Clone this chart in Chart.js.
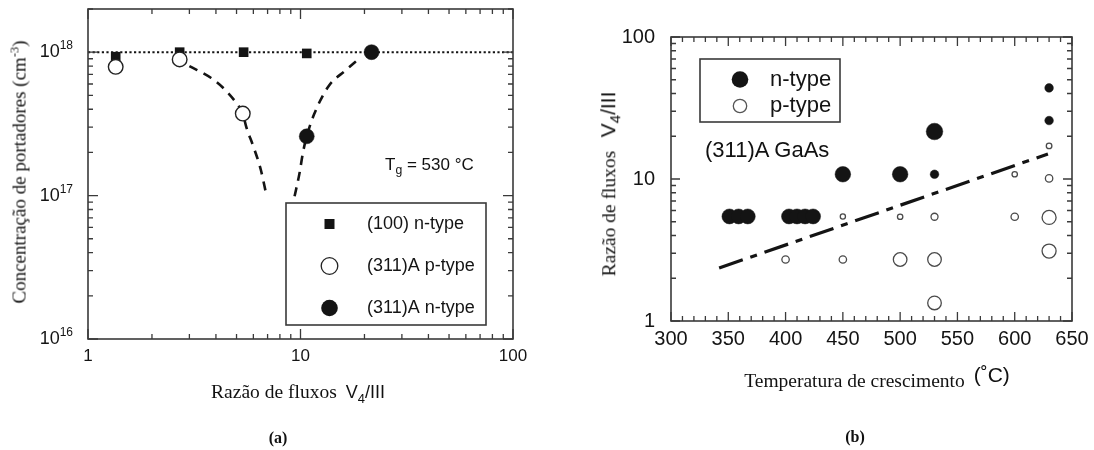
<!DOCTYPE html>
<html>
<head>
<meta charset="utf-8">
<title>Concentração de portadores e razão de fluxos V4/III</title>
<script src="https://cdn.jsdelivr.net/npm/chart.js@4.4.1/dist/chart.umd.min.js"></script>
<style>
  html, body { margin: 0; padding: 0; background: #fff; }
  body { width: 1094px; height: 450px; position: relative; overflow: hidden;
         font-family: "Liberation Sans", Arial, Helvetica, sans-serif; color: #111; }
  canvas { position: absolute; top: 0; }
  .t { position: absolute; white-space: nowrap; line-height: 1; }
  .c { transform: translate(-50%, -50%); }
  .rot { transform: translate(-50%, -50%) rotate(-90deg); }
  .serif { font-family: "Liberation Serif", "Times New Roman", Times, serif; }
  .sans { font-family: "Liberation Sans", Arial, Helvetica, sans-serif; }
  .sub { font-size: 0.72em; position: relative; top: 0.35em; }
  .sup { font-size: 0.66em; position: relative; top: -0.55em; }
</style>
</head>
<body>
<canvas id="chartA" style="left:0" width="545" height="450"></canvas>
<canvas id="chartB" style="left:545px" width="549" height="450"></canvas>

<!-- titles and annotations, panel (a) -->
<div class="t rot serif" style="left:19px;top:172px;font-size:19px">Concentração de portadores (cm<span class="sup">-3</span>)</div>
<div class="t c" style="left:298px;top:392px"><span class="serif" style="font-size:19.5px">Razão de fluxos</span>&nbsp;&nbsp;<span class="sans" style="font-size:18px">V<span class="sub">4</span>/III</span></div>
<div class="t sans" style="left:385px;top:156px;font-size:17px">T<span class="sub">g</span> = 530 °C</div>
<div class="t c serif" style="left:278px;top:438px;font-size:16px;font-weight:bold">(a)</div>

<!-- titles and annotations, panel (b) -->
<div class="t rot" style="left:608px;top:184px"><span class="serif" style="font-size:19.5px">Razão de fluxos</span>&nbsp;&nbsp;&nbsp;<span class="sans" style="font-size:21px">V<span class="sub">4</span>/III</span></div>
<div class="t c" style="left:877px;top:380px"><span class="serif" style="font-size:19.5px">Temperatura de crescimento</span>&nbsp;&nbsp;<span class="sans" style="font-size:21px;position:relative;top:-5px">(˚C)</span></div>
<div class="t sans" style="left:705px;top:139px;font-size:22px">(311)A GaAs</div>
<div class="t c serif" style="left:855px;top:437px;font-size:16px;font-weight:bold">(b)</div>

<script>
// ---------- panel (a): carrier concentration vs. V4/III flux ratio (Tg = 530 °C)
const fluxN100 = [1.35, 2.7, 5.4, 10.7, 21.6];
const concN100 = [9.3e17, 1.0e18, 1.0e18, 0.98e18, 1.0e18];
const fluxP311 = [1.35, 2.7, 5.35];
const concP311 = [7.9e17, 8.9e17, 3.73e17];
const fluxN311 = [10.7, 21.6];
const concN311 = [2.59e17, 1.0e18];
// guide curves through the (311)A points
const fluxPFit = [3.0, 3.8, 4.4, 5.0, 5.35, 5.56, 6.0, 6.5, 6.9];
const concPFit = [8.0e17, 6.6e17, 5.5e17, 4.4e17, 3.73e17, 3.0e17, 2.2e17, 1.52e17, 1.02e17];
const fluxNFit = [9.38, 9.9, 10.26, 10.7, 11.6, 13.5, 16.4, 19.0];
const concNFit = [0.99e17, 1.44e17, 1.98e17, 2.59e17, 3.7e17, 5.74e17, 7.53e17, 9.1e17];
const fluxRef = [1, 100];
const concRef = [1e18, 1e18];
const fluxTicks = [1, 10, 100];
const fluxTickLabels = ['1', '10', '100'];
const concTickExponents = [16, 17, 18];
const legendA = ['(100) n-type', '(311)A p-type', '(311)A n-type'];

// ---------- panel (b): flux ratio vs. growth temperature, (311)A GaAs
const tempN  = [351, 359, 367, 403, 410, 417, 424, 450, 500, 530, 530, 630, 630];
const ratioN = [5.45, 5.45, 5.45, 5.45, 5.45, 5.45, 5.45, 10.8, 10.8, 21.6, 10.8, 43.8, 25.8];
const tempP  = [400, 450, 450, 500, 500, 530, 530, 530, 600, 600, 630, 630, 630, 630];
const ratioP = [2.71, 5.45, 2.71, 5.42, 2.71, 5.42, 2.71, 1.34, 10.8, 5.42, 17.1, 10.1, 5.36, 3.11];
const tempFit  = [342, 629];
const ratioFit = [2.36, 15.0];
const tempTicks = [300, 350, 400, 450, 500, 550, 600, 650];
const tempTickLabels = ['300', '350', '400', '450', '500', '550', '600', '650'];
const ratioTicks = [1, 10, 100];
const ratioTickLabels = ['1', '10', '100'];
const legendB = ['n-type', 'p-type'];

// marker radii (drawing style, px)
const radiusN = [7.5, 7.5, 7.5, 7.5, 7.5, 7.5, 7.5, 7.8, 7.8, 8.3, 4.3, 4.3, 4.3];
const radiusP = [3.7, 2.6, 3.7, 2.7, 6.8, 3.5, 6.8, 6.8, 2.7, 3.7, 2.8, 3.7, 7.0, 7.0];

const INK = '#141414';
const FRAME = '#3a3a3a';
const SANS = '"Liberation Sans", Arial, Helvetica, sans-serif';

const pts = (xs, ys) => xs.map((x, i) => ({ x, y: ys[i] }));

// minor/major positions for a log axis
function logTickValues(min, max) {
  const out = [];
  for (let d = Math.floor(Math.log10(min)); d <= Math.ceil(Math.log10(max)); d++) {
    for (let m = 1; m <= 9; m++) {
      const v = m * Math.pow(10, d);
      if (v >= min * 0.999 && v <= max * 1.001) out.push({ v, major: m === 1 });
    }
  }
  return out;
}

// frame plus inward ticks on all four sides
function drawFrame(chart, xTicks, yTicks, len) {
  const { ctx, chartArea: a, scales: { x, y } } = chart;
  ctx.save();
  ctx.strokeStyle = FRAME;
  ctx.lineWidth = 1.3;
  ctx.beginPath();
  xTicks.forEach(t => {
    const px = x.getPixelForValue(t.v);
    const L = t.major ? len.major : len.minor;
    ctx.moveTo(px, a.bottom); ctx.lineTo(px, a.bottom - L);
    ctx.moveTo(px, a.top); ctx.lineTo(px, a.top + L);
  });
  yTicks.forEach(t => {
    const py = y.getPixelForValue(t.v);
    const L = t.major ? len.major : len.minor;
    ctx.moveTo(a.left, py); ctx.lineTo(a.left + L, py);
    ctx.moveTo(a.right, py); ctx.lineTo(a.right - L, py);
  });
  ctx.stroke();
  ctx.lineWidth = 1.6;
  ctx.strokeRect(a.left, a.top, a.right - a.left, a.bottom - a.top);
  ctx.restore();
}

function marker(ctx, kind, cx, cy, r, stroke) {
  ctx.beginPath();
  if (kind === 'square') {
    ctx.fillStyle = INK;
    ctx.fillRect(cx - r, cy - r, 2 * r, 2 * r);
    return;
  }
  ctx.arc(cx, cy, r, 0, Math.PI * 2);
  if (kind === 'filled') { ctx.fillStyle = INK; ctx.fill(); }
  else { ctx.fillStyle = '#fff'; ctx.fill(); ctx.strokeStyle = stroke; ctx.lineWidth = 1.3; ctx.stroke(); }
}

const decorA = {
  id: 'decorA',
  afterDraw(chart) {
    const { ctx, chartArea: a, scales: { x, y } } = chart;
    const xT = logTickValues(1, 100);
    const yT = logTickValues(1e16, 2e18);
    drawFrame(chart, xT, yT, { major: 10, minor: 5 });

    ctx.save();
    ctx.fillStyle = INK;
    // flux ratio labels
    ctx.font = '17px ' + SANS;
    ctx.textAlign = 'center';
    ctx.textBaseline = 'middle';
    fluxTicks.forEach((v, i) => ctx.fillText(fluxTickLabels[i], x.getPixelForValue(v), a.bottom + 17));
    // concentration labels 10^n
    concTickExponents.forEach(e => {
      const py = y.getPixelForValue(Math.pow(10, e));
      const right = a.left - 15;
      ctx.font = '12px ' + SANS;
      ctx.textAlign = 'right';
      const supW = ctx.measureText(String(e)).width;
      ctx.fillText(String(e), right, py - 6);
      ctx.font = '18px ' + SANS;
      ctx.fillText('10', right - supW, py);
    });

    // legend box
    const bx = a.left + 198, by = a.top + 194, bw = 200, bh = 122;
    ctx.fillStyle = '#fff';
    ctx.fillRect(bx, by, bw, bh);
    ctx.strokeStyle = FRAME;
    ctx.lineWidth = 1.6;
    ctx.strokeRect(bx, by, bw, bh);
    const kinds = ['square', 'open', 'filled'];
    legendA.forEach((lab, i) => {
      const ry = by + 21 + i * 42;
      marker(ctx, kinds[i], bx + 43.5, ry, kinds[i] === 'square' ? 5 : 8.3, '#222');
      ctx.fillStyle = INK;
      ctx.font = '18px ' + SANS;
      ctx.textAlign = 'left';
      ctx.textBaseline = 'middle';
      ctx.fillText(lab, bx + 81, ry);
    });
    ctx.restore();
  }
};

const decorB = {
  id: 'decorB',
  afterDraw(chart) {
    const { ctx, chartArea: a, scales: { x, y } } = chart;
    const xT = [];
    for (let v = 300; v <= 650; v += 10) xT.push({ v, major: v % 50 === 0 });
    const yT = logTickValues(1, 100);
    drawFrame(chart, xT, yT, { major: 9, minor: 5 });

    ctx.save();
    ctx.fillStyle = INK;
    ctx.font = '20px ' + SANS;
    ctx.textAlign = 'center';
    ctx.textBaseline = 'middle';
    tempTicks.forEach((v, i) => ctx.fillText(tempTickLabels[i], x.getPixelForValue(v), a.bottom + 18));
    ctx.textAlign = 'right';
    ratioTicks.forEach((v, i) => ctx.fillText(ratioTickLabels[i], a.left - 16, y.getPixelForValue(v)));

    // legend box
    const bx = a.left + 29, by = a.top + 22, bw = 140, bh = 63;
    ctx.fillStyle = '#fff';
    ctx.fillRect(bx, by, bw, bh);
    ctx.strokeStyle = FRAME;
    ctx.lineWidth = 1.6;
    ctx.strokeRect(bx, by, bw, bh);
    const kinds = ['filled', 'open'];
    const radii = [8.3, 6.7];
    legendB.forEach((lab, i) => {
      const ry = by + 20.5 + i * 26.5;
      marker(ctx, kinds[i], bx + 40, ry, radii[i], '#555');
      ctx.fillStyle = INK;
      ctx.font = '22px ' + SANS;
      ctx.textAlign = 'left';
      ctx.textBaseline = 'middle';
      ctx.fillText(lab, bx + 70, ry);
    });
    ctx.restore();
  }
};

const common = {
  responsive: false,
  animation: false,
  events: [],
  devicePixelRatio: 1,
  plugins: { legend: { display: false }, tooltip: { enabled: false } }
};

new Chart(document.getElementById('chartA'), {
  type: 'scatter',
  data: {
    datasets: [
      { label: legendA[2], data: pts(fluxN311, concN311), order: 1,
        pointStyle: 'circle', pointRadius: 7.5, pointBackgroundColor: INK, pointBorderColor: INK, pointBorderWidth: 0.5 },
      { label: legendA[1], data: pts(fluxP311, concP311), order: 2,
        pointStyle: 'circle', pointRadius: 7.3, pointBackgroundColor: '#fff', pointBorderColor: '#222', pointBorderWidth: 1.4 },
      { label: legendA[0], data: pts(fluxN100, concN100), order: 3,
        pointStyle: 'rect', pointRadius: 6.8, pointBackgroundColor: INK, pointBorderColor: INK, pointBorderWidth: 0 },
      { type: 'line', data: pts(fluxPFit, concPFit), order: 4, borderColor: INK, borderWidth: 2.6,
        borderDash: [9, 7], pointRadius: 0, cubicInterpolationMode: 'monotone', fill: false },
      { type: 'line', data: pts(fluxNFit, concNFit), order: 5, borderColor: INK, borderWidth: 2.6,
        borderDash: [9, 7], pointRadius: 0, cubicInterpolationMode: 'monotone', fill: false },
      { type: 'line', data: pts(fluxRef, concRef), order: 6, borderColor: INK, borderWidth: 2,
        borderDash: [2.2, 2.4], pointRadius: 0, fill: false }
    ]
  },
  options: Object.assign({}, common, {
    layout: { padding: { left: 88, right: 32, top: 9, bottom: 111 } },
    scales: {
      x: { type: 'logarithmic', min: 1, max: 100, display: false },
      y: { type: 'logarithmic', min: 1e16, max: 2e18, display: false }
    }
  }),
  plugins: [decorA]
});

new Chart(document.getElementById('chartB'), {
  type: 'scatter',
  data: {
    datasets: [
      { label: legendB[0], data: pts(tempN, ratioN), order: 1,
        pointStyle: 'circle', pointRadius: radiusN, pointBackgroundColor: INK, pointBorderColor: INK, pointBorderWidth: 0.5 },
      { label: legendB[1], data: pts(tempP, ratioP), order: 2,
        pointStyle: 'circle', pointRadius: radiusP, pointBackgroundColor: 'rgba(255,255,255,0)', pointBorderColor: '#4a4a4a', pointBorderWidth: 1.3 },
      { type: 'line', data: pts(tempFit, ratioFit), order: 3, borderColor: INK, borderWidth: 3.2,
        borderDash: [25, 8, 7, 8], pointRadius: 0, fill: false }
    ]
  },
  options: Object.assign({}, common, {
    layout: { padding: { left: 126, right: 22, top: 37, bottom: 129 } },
    scales: {
      x: { type: 'linear', min: 300, max: 650, display: false },
      y: { type: 'logarithmic', min: 1, max: 100, display: false }
    }
  }),
  plugins: [decorB]
});
</script>
</body>
</html>
